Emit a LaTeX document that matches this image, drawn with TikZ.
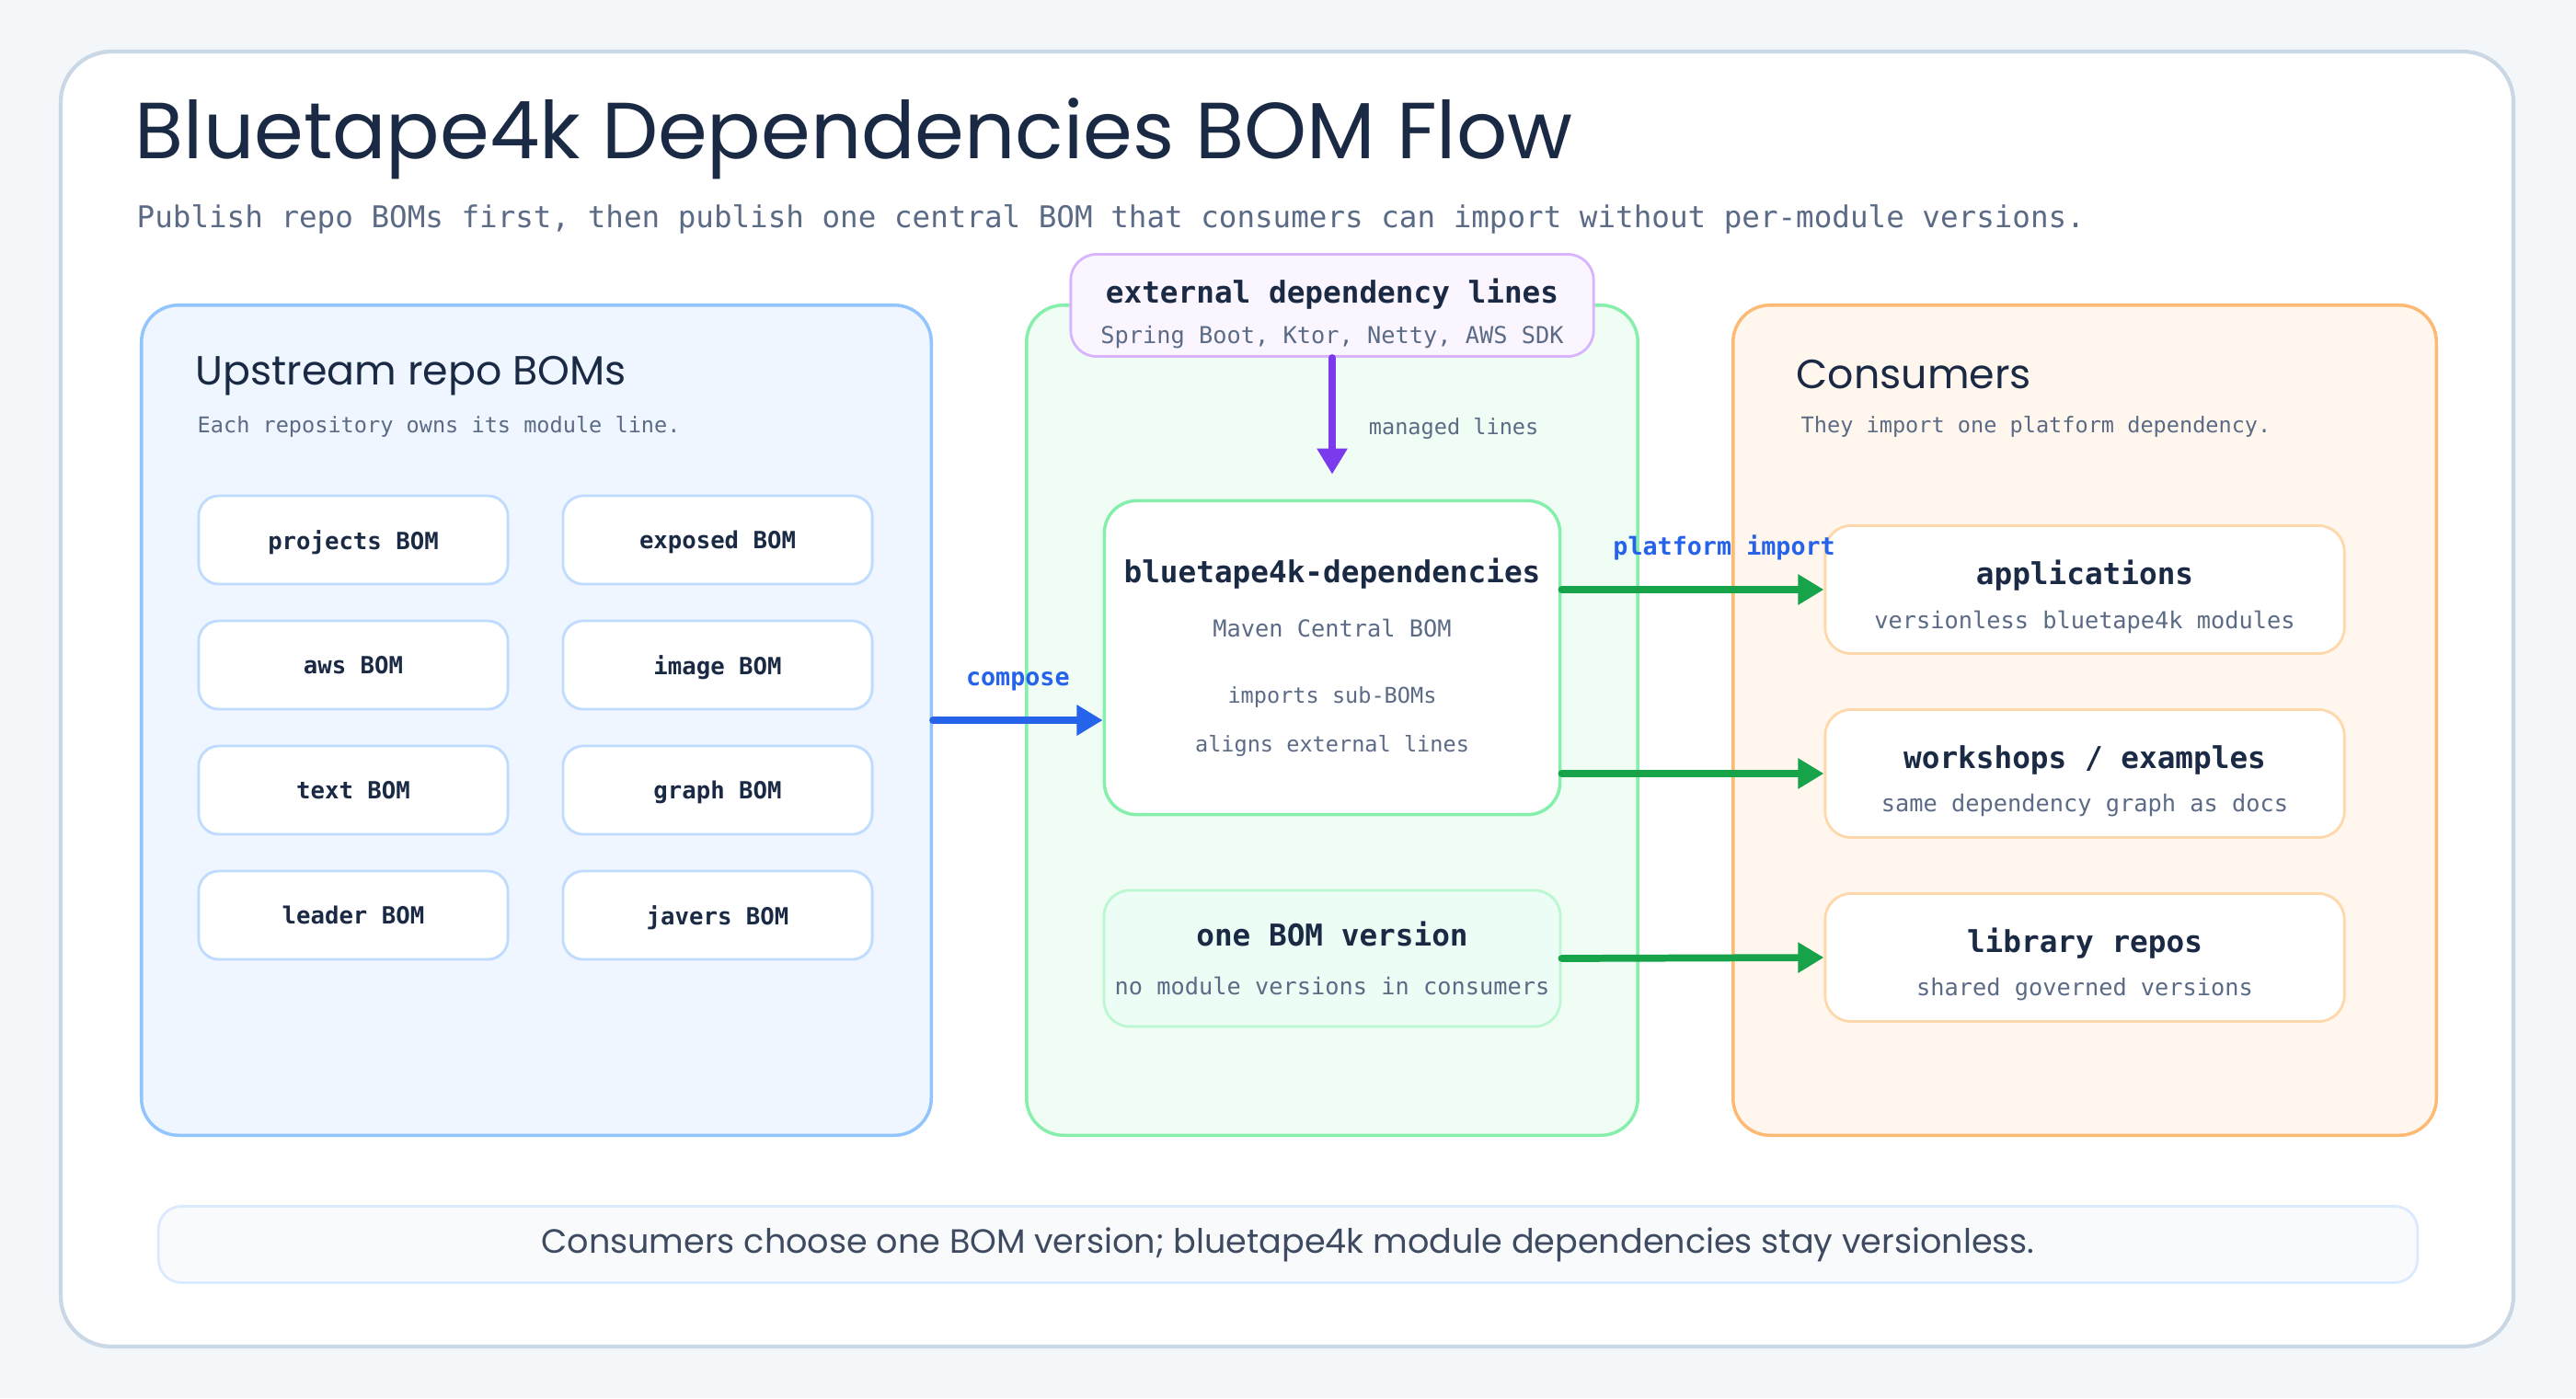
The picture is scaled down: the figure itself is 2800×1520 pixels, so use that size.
\documentclass[tikz,border=0pt]{standalone}
\usepackage{fontspec}
\setmainfont{Poppins}
\setmonofont{DejaVu Sans Mono}
\usetikzlibrary{arrows.meta}

\definecolor{pagebg}{HTML}{F4F7FA}
\definecolor{frameline}{HTML}{CAD7E5}
\definecolor{ink}{HTML}{1B2A44}
\definecolor{muted}{HTML}{5B6B86}
\definecolor{upfill}{HTML}{EFF6FF}
\definecolor{upline}{HTML}{93C5FD}
\definecolor{bomline}{HTML}{BFDBFE}
\definecolor{midfill}{HTML}{F0FDF4}
\definecolor{midline}{HTML}{86EFAC}
\definecolor{onefill}{HTML}{ECFDF5}
\definecolor{oneline}{HTML}{BBF7D0}
\definecolor{extfill}{HTML}{FAF5FF}
\definecolor{extline}{HTML}{D8B4FE}
\definecolor{confill}{HTML}{FFF7ED}
\definecolor{conline}{HTML}{FDBA74}
\definecolor{appline}{HTML}{FED7AA}
\definecolor{footfill}{HTML}{F8FAFC}
\definecolor{footline}{HTML}{DBEAFE}
\definecolor{composeblue}{HTML}{2563EB}
\definecolor{managedpurple}{HTML}{7C3AED}
\definecolor{importgreen}{HTML}{16A34A}

\newcommand{\cardtitle}[2][0pt]{{\color{ink}\bfseries\fontsize{9.3}{14}\selectfont\rule{0pt}{#1}#2}}

\begin{document}
\begin{tikzpicture}[x=0.01cm,y=-0.01cm,
    panel/.style={line width=1pt,rounded corners=0.4cm,minimum height=9.02cm,inner sep=0pt},
    bombox/.style={draw=bomline,fill=white,line width=0.8pt,rounded corners=0.22cm,
      minimum width=3.36cm,minimum height=0.96cm,text=ink,text depth=0pt,
      font=\ttfamily\bfseries\fontsize{7.3}{9}\selectfont},
    cardbox/.style={fill=white,line width=0.8pt,rounded corners=0.28cm,align=center,
      text=muted,font=\ttfamily\fontsize{7.2}{13.4}\selectfont},
    heading/.style={anchor=west,inner sep=0pt,text=ink,font=\fontsize{12.6}{14}\selectfont},
    note/.style={anchor=west,inner sep=0pt,text=muted,font=\ttfamily\fontsize{6.7}{8}\selectfont},
    flow/.style={line width=2.2pt,line cap=round,-{Triangle[length=8pt,width=9pt]},#1},
    flowlabel/.style={inner sep=0pt,text=composeblue,font=\ttfamily\bfseries\fontsize{7.6}{9}\selectfont}]

\fill[pagebg] (0,0) rectangle (2800,1520);
\useasboundingbox (0,0) rectangle (2800,1520);
\draw[frameline,fill=white,line width=1.2pt,rounded corners=0.55cm] (66,56) rectangle (2732,1464);

\node[anchor=base west,inner sep=0pt,text=ink,font=\fontsize{24.6}{30}\selectfont] (title) at (146,172) {Bluetape4k Dependencies BOM Flow};
\node[anchor=west,inner sep=0pt,text=muted,font=\ttfamily\fontsize{9.26}{11}\selectfont] (subtitle) at (148,238) {Publish repo BOMs first, then publish one central BOM that consumers can import without per-module versions.};

\node[panel,draw=upline,fill=upfill,minimum width=8.58cm] (upstream) at (583,783) {};
\node[panel,draw=midline,fill=midfill,minimum width=6.64cm] (central) at (1448,783) {};
\node[panel,draw=conline,fill=confill,minimum width=7.64cm] (consumers) at (2266,783) {};

\node[heading] (up-head) at (212,409) {Upstream repo BOMs};
\node[note] (up-note) at (214,464) {Each repository owns its module line.};
\node[heading] (con-head) at (1952,407) {Consumers};
\node[note] (con-note) at (1957,464) {They import one platform dependency.};

\foreach \repo/\x/\y in {projects/384/587, exposed/780/587, aws/384/723, image/780/723,
    text/384/859, graph/780/859, leader/384/995, javers/780/995}
  \node[bombox] (\repo) at (\x,\y) {\repo{} BOM};

\node[cardbox,draw=extline,fill=extfill,inner sep=0pt,minimum width=5.68cm,minimum height=1.11cm,
  font=\ttfamily\fontsize{7.2}{12.4}\selectfont] (ext) at (1448,332)
  {\cardtitle[12.8pt]{external dependency lines}\\Spring Boot, Ktor, Netty, AWS SDK};
\node[cardbox,draw=midline,line width=1pt,rounded corners=0.35cm,minimum width=4.95cm,minimum height=3.41cm,
  font=\ttfamily\fontsize{7.2}{15.1}\selectfont] (bom) at (1448,715)
  {\cardtitle{bluetape4k-dependencies}\\[1.7pt]Maven Central BOM\\[5.4pt]{\fontsize{6.7}{8}\selectfont imports sub-BOMs}\\{\fontsize{6.7}{8}\selectfont aligns external lines}};
\node[cardbox,draw=oneline,fill=onefill,minimum width=4.95cm,minimum height=1.48cm,
  font=\ttfamily\fontsize{7.2}{15}\selectfont] (one) at (1448,1042)
  {\cardtitle{one BOM version}\\no module versions in consumers};

\node[cardbox,draw=appline,minimum width=5.64cm,minimum height=1.39cm] (apps) at (2266,641)
  {\cardtitle[12pt]{applications}\\versionless bluetape4k modules};
\node[cardbox,draw=appline,minimum width=5.64cm,minimum height=1.39cm] (workshops) at (2266,841)
  {\cardtitle[12pt]{workshops / examples}\\same dependency graph as docs};
\node[cardbox,draw=appline,minimum width=5.64cm,minimum height=1.39cm] (libs) at (2266,1041)
  {\cardtitle[12pt]{library repos}\\shared governed versions};

\draw[flow=composeblue] (upstream.east) -- (upstream.east -| bom.west)
  node[flowlabel,midway,above=8pt] {compose};
\draw[flow=managedpurple,shorten >=0.27cm] (ext.south) -- (bom.north)
  node[midway,anchor=west,xshift=0.36cm,inner sep=0pt,text=muted,font=\ttfamily\fontsize{6.7}{8}\selectfont] {managed lines};
\draw[flow=importgreen] (apps.west -| bom.east) -- (apps.west)
  node[flowlabel,pos=0.62,above=8pt] {platform import};
\draw[flow=importgreen] (workshops.west -| bom.east) -- (workshops.west);
\draw[flow=importgreen] (one.east) -- (libs.west);

\node[draw=footline,fill=footfill,line width=0.8pt,rounded corners=0.25cm,minimum width=24.54cm,minimum height=0.83cm,
  text=ink!85,font=\fontsize{10.4}{12}\selectfont] (footer) at (1400,1353)
  {Consumers choose one BOM version; bluetape4k module dependencies stay versionless.};
\end{tikzpicture}
\end{document}
